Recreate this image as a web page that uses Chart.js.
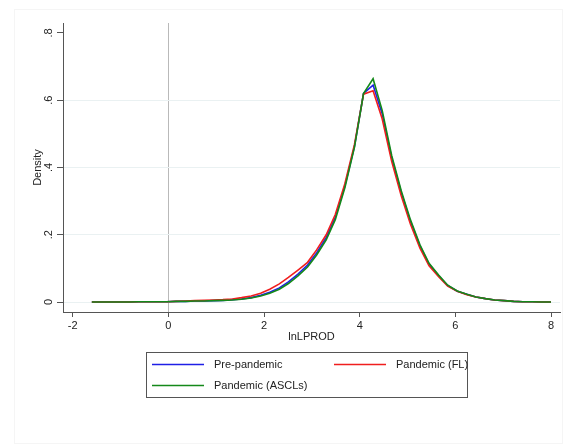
<!DOCTYPE html>
<html>
<head>
<meta charset="utf-8">
<script src="https://cdn.jsdelivr.net/npm/chart.js@4"></script>
<style>
  html, body { margin: 0; padding: 0; background: #fff; }
  #wrap { width: 564px; height: 446px; position: relative; }
</style>
</head>
<body>
<div id="wrap"><canvas id="densidad" width="564" height="446"></canvas></div>
<script>
// kdensity evaluation points (lnLPROD)
const xs = [-1.60, -1.40, -1.21, -1.01, -0.82, -0.62, -0.42, -0.23, -0.03, 0.16,
  0.36, 0.55, 0.75, 0.95, 1.14, 1.34, 1.53, 1.73, 1.93, 2.12,
  2.32, 2.51, 2.71, 2.91, 3.10, 3.30, 3.49, 3.69, 3.89, 4.08,
  4.28, 4.47, 4.67, 4.87, 5.06, 5.26, 5.45, 5.65, 5.84, 6.04,
  6.24, 6.43, 6.63, 6.82, 7.02, 7.22, 7.41, 7.61, 7.80, 8.00];

const prePandemic = [0.000, 0.000, 0.000, 0.000, 0.000, 0.001, 0.001, 0.001, 0.001, 0.002,
  0.002, 0.003, 0.003, 0.004, 0.005, 0.007, 0.009, 0.013, 0.020, 0.029,
  0.042, 0.060, 0.083, 0.110, 0.146, 0.192, 0.252, 0.345, 0.462, 0.620,
  0.645, 0.560, 0.428, 0.325, 0.240, 0.167, 0.113, 0.078, 0.049, 0.032,
  0.023, 0.015, 0.010, 0.006, 0.004, 0.002, 0.001, 0.001, 0.000, 0.000];

const pandemicFL = [0.000, 0.000, 0.000, 0.000, 0.000, 0.001, 0.001, 0.001, 0.001, 0.002,
  0.003, 0.004, 0.005, 0.006, 0.007, 0.009, 0.013, 0.018, 0.026, 0.038,
  0.054, 0.073, 0.095, 0.118, 0.155, 0.200, 0.260, 0.352, 0.468, 0.618,
  0.628, 0.545, 0.418, 0.315, 0.232, 0.160, 0.108, 0.075, 0.047, 0.032,
  0.022, 0.015, 0.010, 0.006, 0.004, 0.002, 0.001, 0.001, 0.000, 0.000];

const pandemicASCL = [0.000, 0.000, 0.000, 0.000, 0.000, 0.001, 0.001, 0.001, 0.001, 0.002,
  0.002, 0.003, 0.003, 0.004, 0.005, 0.006, 0.008, 0.012, 0.018, 0.026,
  0.038, 0.055, 0.078, 0.104, 0.140, 0.185, 0.245, 0.340, 0.460, 0.620,
  0.664, 0.570, 0.435, 0.330, 0.245, 0.170, 0.115, 0.080, 0.050, 0.033,
  0.023, 0.015, 0.010, 0.006, 0.004, 0.002, 0.001, 0.001, 0.000, 0.000];

const xTicks = [-2, 0, 2, 4, 6, 8];
const yTicks = [0, 0.2, 0.4, 0.6, 0.8];
const yTickLabels = ['0', '.2', '.4', '.6', '.8'];
const seriesNames = ['Pre-pandemic', 'Pandemic (FL)', 'Pandemic (ASCLs)'];
const seriesColors = ['#1f1fe6', '#f01e1e', '#14891a'];

const fuente = "'Liberation Sans', Arial, sans-serif";
const ejeColor = '#555';
const textoColor = '#222';

const puntos = (ys) => xs.map((x, i) => ({ x: x, y: ys[i] }));

// marco tenue, etiquetas del eje y rotadas y leyenda tipo Stata
const extras = {
  id: 'extras',
  beforeDraw(chart) {
    const c = chart.ctx;
    c.save();
    c.strokeStyle = '#f5f5f5';
    c.lineWidth = 1;
    c.strokeRect(14.5, 9.5, 548, 434);
    c.restore();
  },
  afterDraw(chart) {
    const c = chart.ctx;
    const yScale = chart.scales.y;
    c.save();
    c.font = '11px ' + fuente;
    c.fillStyle = textoColor;
    c.textAlign = 'center';
    c.textBaseline = 'middle';
    yTicks.forEach((v, i) => {
      c.save();
      c.translate(49, yScale.getPixelForValue(v));
      c.rotate(-Math.PI / 2);
      c.fillText(yTickLabels[i], 0, 0);
      c.restore();
    });

    // leyenda
    c.strokeStyle = ejeColor;
    c.lineWidth = 1;
    c.strokeRect(146.5, 352.5, 321, 45);
    const items = [
      { x: 152, y: 364 },
      { x: 334, y: 364 },
      { x: 152, y: 385 },
    ];
    c.textAlign = 'left';
    items.forEach((it, i) => {
      c.strokeStyle = seriesColors[i];
      c.lineWidth = 1.5;
      c.beginPath();
      c.moveTo(it.x, it.y + 0.5);
      c.lineTo(it.x + 52, it.y + 0.5);
      c.stroke();
      c.fillText(seriesNames[i], it.x + 62, it.y + 0.5);
    });
    c.restore();
  }
};

new Chart(document.getElementById('densidad').getContext('2d'), {
  type: 'line',
  data: {
    datasets: [
      { label: seriesNames[0], data: puntos(prePandemic), borderColor: seriesColors[0], order: 2 },
      { label: seriesNames[1], data: puntos(pandemicFL), borderColor: seriesColors[1], order: 1 },
      { label: seriesNames[2], data: puntos(pandemicASCL), borderColor: seriesColors[2], order: 0 },
    ],
  },
  options: {
    responsive: false,
    animation: false,
    layout: { padding: { left: 0, top: 23, right: 4, bottom: 0 } },
    elements: {
      point: { radius: 0 },
      line: { borderWidth: 1.6, tension: 0, fill: false },
    },
    plugins: {
      legend: { display: false },
      tooltip: { enabled: false },
    },
    scales: {
      x: {
        type: 'linear',
        min: -2.203,
        max: 8.188,
        afterBuildTicks: (s) => { s.ticks = xTicks.map((v) => ({ value: v })); },
        afterFit: (s) => { s.height = 134; },
        ticks: {
          font: { family: fuente, size: 11 },
          color: textoColor,
          padding: 2,
          maxRotation: 0,
          callback: (v) => String(v),
        },
        grid: {
          drawOnChartArea: true,
          color: (ctx) => (ctx.tick && ctx.tick.value === 0 ? '#b9b9b9' : 'rgba(0,0,0,0)'),
          tickColor: ejeColor,
          tickLength: 5,
          lineWidth: 1,
        },
        border: { display: true, color: ejeColor, width: 1 },
        title: {
          display: true,
          text: 'lnLPROD',
          font: { family: fuente, size: 11 },
          color: textoColor,
          padding: { top: 0, bottom: 102 },
        },
      },
      y: {
        type: 'linear',
        min: -0.0297,
        max: 0.8297,
        afterBuildTicks: (s) => { s.ticks = yTicks.map((v) => ({ value: v })); },
        afterFit: (s) => { s.width = 63; },
        ticks: { display: false },
        grid: {
          drawOnChartArea: true,
          color: (ctx) => (ctx.tick && ctx.tick.value === 0.8 ? 'rgba(0,0,0,0)' : '#eaf1f2'),
          tickColor: ejeColor,
          tickLength: 6,
          lineWidth: 1,
        },
        border: { display: true, color: ejeColor, width: 1 },
        title: {
          display: true,
          text: 'Density',
          font: { family: fuente, size: 11 },
          color: textoColor,
          padding: { top: 31, bottom: 0 },
        },
      },
    },
  },
  plugins: [extras],
});
</script>
</body>
</html>
